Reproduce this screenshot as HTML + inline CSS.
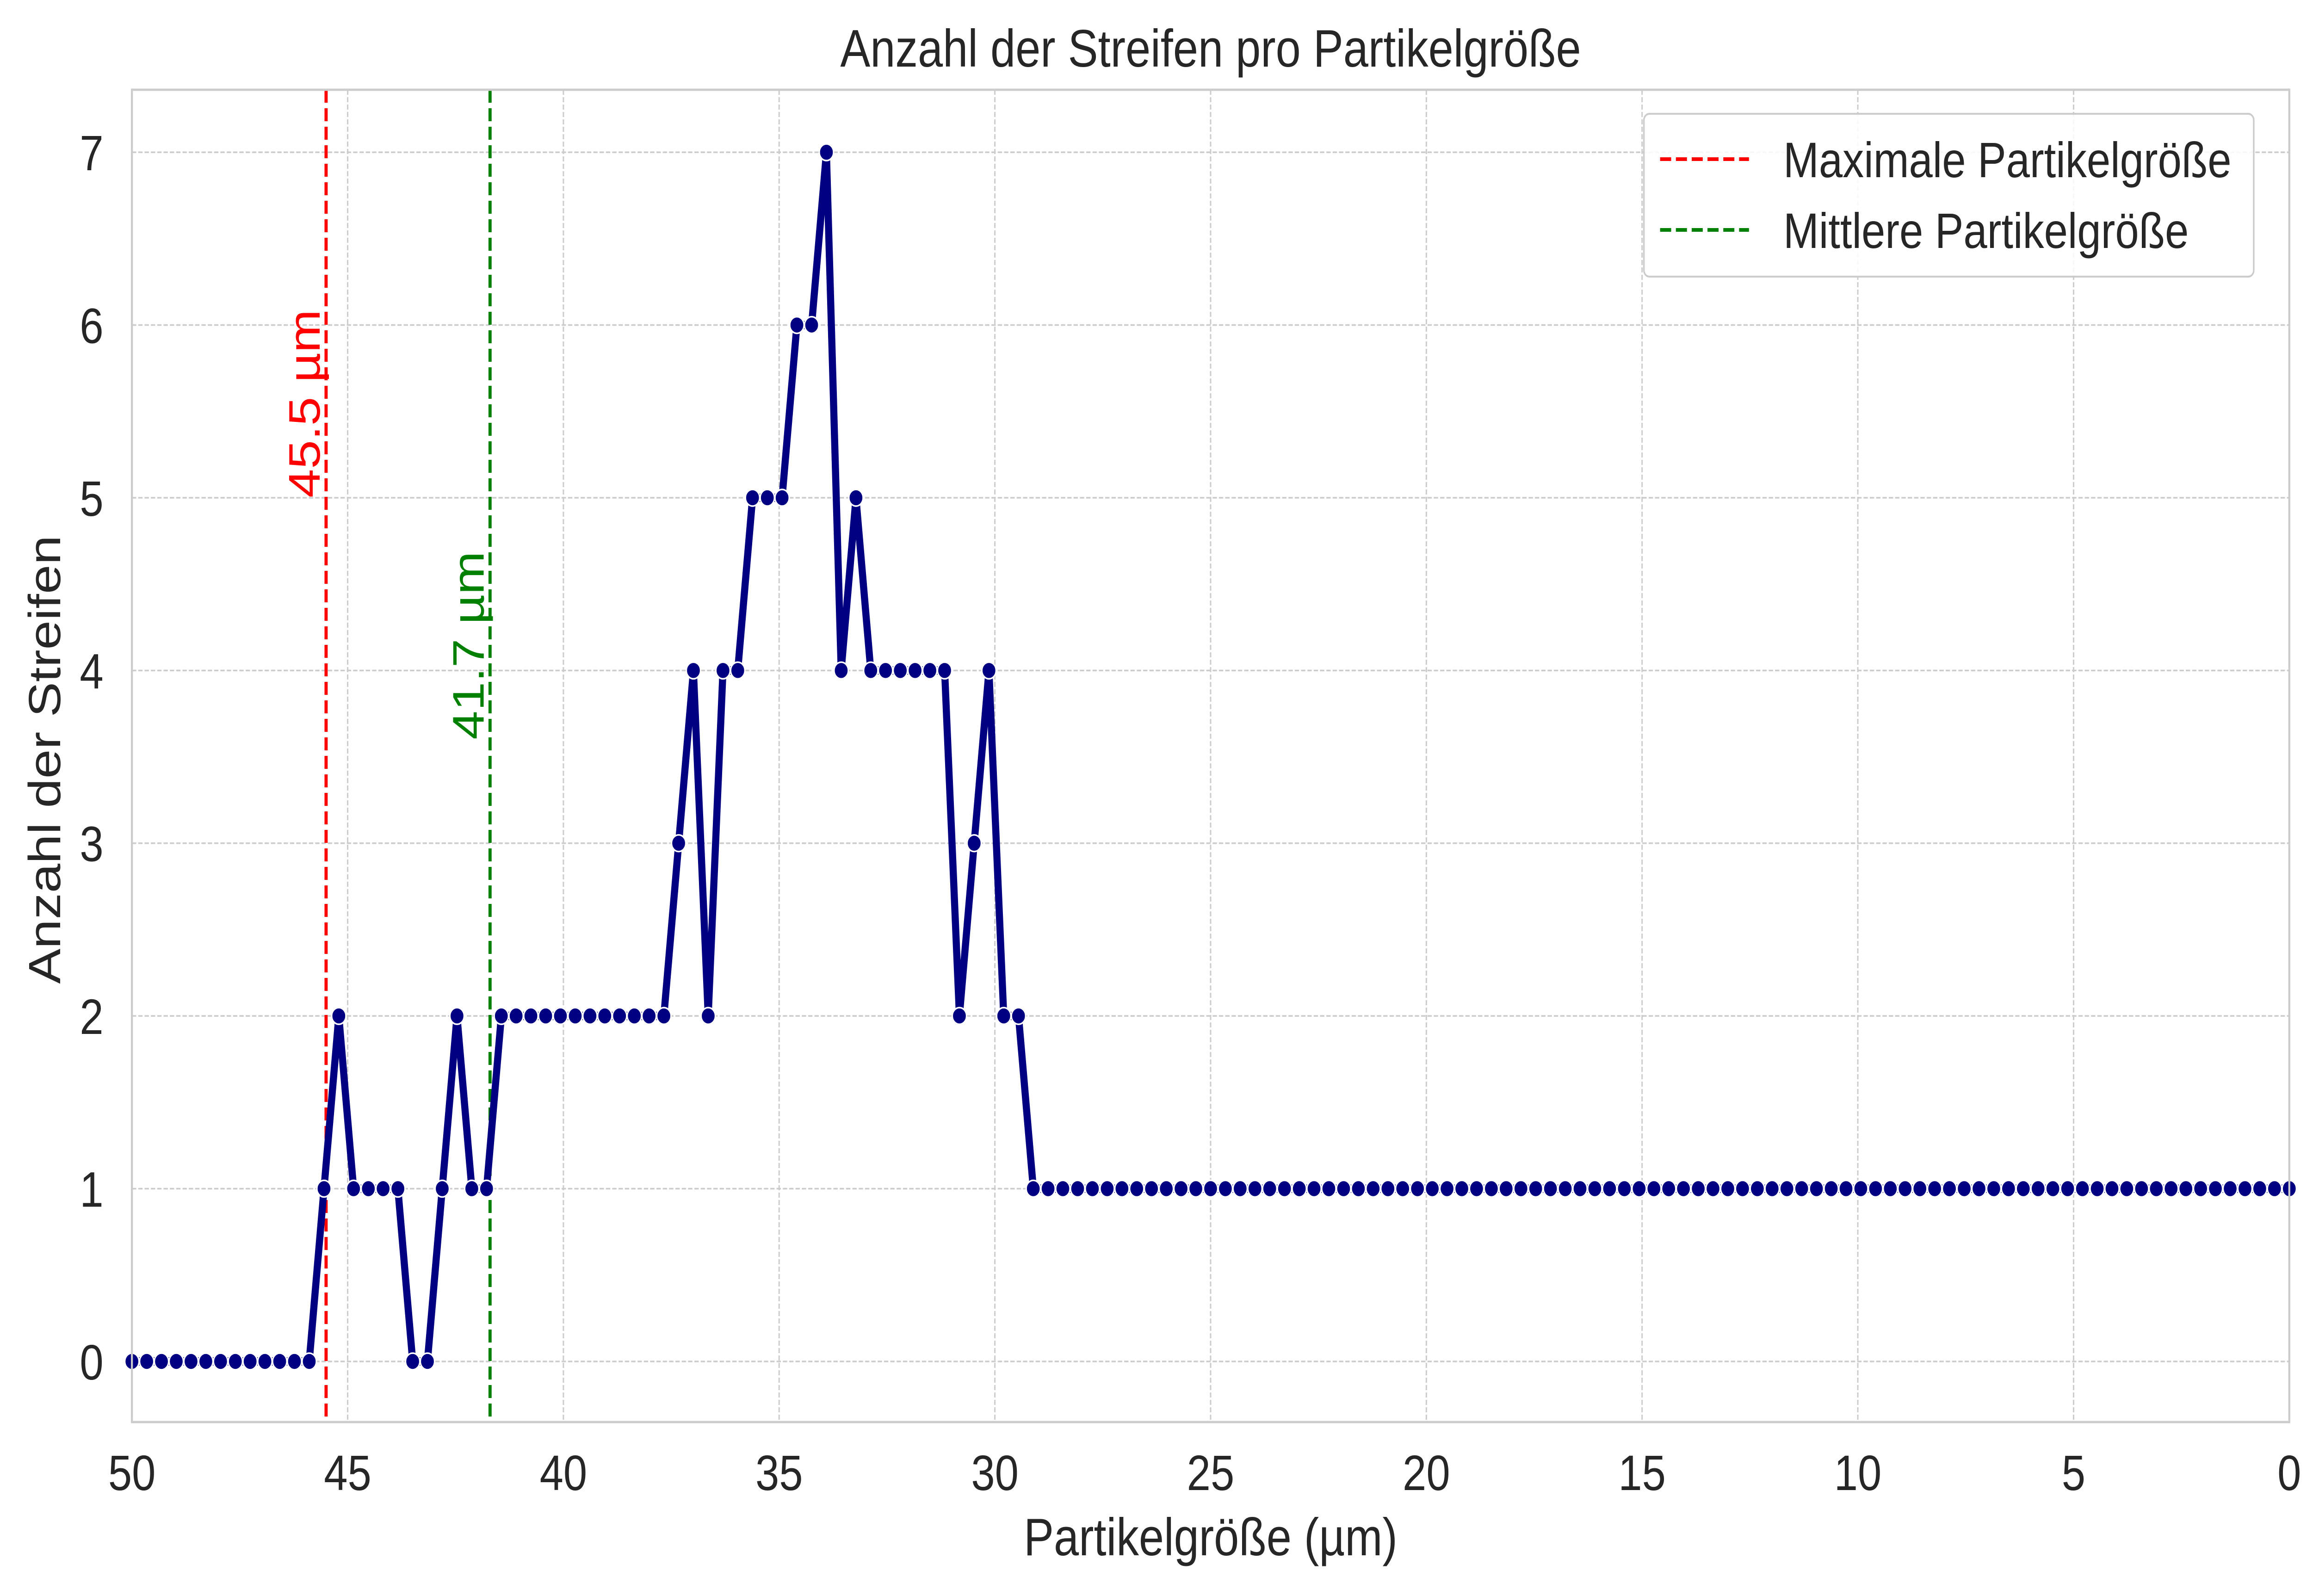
<!DOCTYPE html>
<html><head><meta charset="utf-8"><style>
html,body{margin:0;padding:0;background:#fff;overflow:hidden;width:100vw;height:100vh;}
svg{display:block;width:100vw;height:100vh;font-family:"Liberation Sans","DejaVu Sans",sans-serif;}
</style></head><body>
<svg id="chart" viewBox="0 0 5856 3450" preserveAspectRatio="none" xmlns="http://www.w3.org/2000/svg">
<rect x="0" y="0" width="5856" height="3450" fill="#fff"/>
<g id="grid"></g>
<g id="vlines"></g>
<g id="series"></g>
<rect x="334" y="194" width="5462" height="2880" fill="none" stroke="#cccccc" stroke-width="5"/>
<g id="ticks"></g>
<text x="3065" y="144" font-size="114" text-anchor="middle" fill="#262626">Anzahl der Streifen pro Partikelgröße</text>
<text x="3065" y="3362" font-size="114" text-anchor="middle" fill="#262626">Partikelgröße (µm)</text>
<text x="0" y="0" font-size="114" text-anchor="middle" fill="#262626" transform="translate(152,1642) rotate(-90)">Anzahl der Streifen</text>
<g>
<rect x="4162" y="246" width="1544" height="352" rx="14" fill="#fff" fill-opacity="0.85" stroke="#cccccc" stroke-width="4"/>
<line x1="4203" y1="344" x2="4428" y2="344" stroke="#ff0000" stroke-width="8" stroke-dasharray="28,12"/>
<text x="4515" y="383" font-size="108" fill="#262626">Maximale Partikelgröße</text>
<line x1="4203" y1="497" x2="4428" y2="497" stroke="#008000" stroke-width="8" stroke-dasharray="28,12"/>
<text x="4515" y="536" font-size="108" fill="#262626">Mittlere Partikelgröße</text>
</g>
</svg>
<script>
const counts = [0,0,0,0,0,0,0,0,0,0,0,0,0,1,2,1,1,1,1,0,0,1,2,1,1,2,2,2,2,2,2,2,2,2,2,2,2,3,4,2,4,4,5,5,5,6,6,7,4,5,4,4,4,4,4,4,2,3,4,2,2,1,1,1,1,1,1,1,1,1,1,1,1,1,1,1,1,1,1,1,1,1,1,1,1,1,1,1,1,1,1,1,1,1,1,1,1,1,1,1,1,1,1,1,1,1,1,1,1,1,1,1,1,1,1,1,1,1,1,1,1,1,1,1,1,1,1,1,1,1,1,1,1,1,1,1,1,1,1,1,1,1,1,1,1,1,1];
const xStart = 50, xEnd = 0;
const xTicks = [50,45,40,35,30,25,20,15,10,5,0];
const yTicks = [0,1,2,3,4,5,6,7];
const maxSize = 45.5;
const meanSize = 41.7;
const NS='http://www.w3.org/2000/svg';
const L=334,R=5796,T=194,B=3074;
const xMin=0,xMax=50,yMin=-0.351,yMax=7.362;
function X(v){return L+(xMax-v)/(xMax-xMin)*(R-L);}
function Y(v){return B-(v-yMin)/(yMax-yMin)*(B-T);}
function mk(tag,attrs,parent){const e=document.createElementNS(NS,tag);for(const k in attrs)e.setAttribute(k,attrs[k]);parent.appendChild(e);return e;}
const grid=document.getElementById('grid'),ticks=document.getElementById('ticks');
xTicks.forEach(t=>{
  const g=mk('line',{x1:X(t),x2:X(t),y1:T,y2:B,stroke:'#cccccc','stroke-width':3.5,'stroke-dasharray':'11,5'},grid);
  
  
  const tx=mk('text',{x:X(t),y:3221,'font-size':108,'text-anchor':'middle',fill:'#262626'},ticks);
  tx.textContent=t;
  
  
});
yTicks.forEach(t=>{
  const g=mk('line',{x1:L,x2:R,y1:Y(t),y2:Y(t),stroke:'#cccccc','stroke-width':3.5,'stroke-dasharray':'11,5'},grid);
  
  
  const tx=mk('text',{x:262,y:Y(t)+39,'font-size':108,'text-anchor':'end',fill:'#262626'},ticks);
  tx.textContent=t;
  
  
});
const vl=document.getElementById('vlines');
const r1=mk('line',{x1:X(maxSize),x2:X(maxSize),y1:T,y2:B,stroke:'#ff0000','stroke-width':8,'stroke-dasharray':'28,12'},vl);


const r2=mk('line',{x1:X(meanSize),x2:X(meanSize),y1:T,y2:B,stroke:'#008000','stroke-width':8,'stroke-dasharray':'28,12'},vl);


const a1=mk('text',{x:0,y:0,'font-size':112,fill:'#ff0000',transform:`translate(${X(maxSize)-16},${Y(5.0)}) rotate(-90)`},vl);
a1.textContent=maxSize.toFixed(1)+' µm';


const a2=mk('text',{x:0,y:0,'font-size':112,fill:'#008000',transform:`translate(${X(meanSize)-16},${Y(3.6)}) rotate(-90)`},vl);
a2.textContent=meanSize.toFixed(1)+' µm';


const s=document.getElementById('series');
const n=counts.length;
const xs=counts.map((c,i)=>xStart+(xEnd-xStart)*i/(n-1));
const pts=counts.map((c,i)=>X(xs[i]).toFixed(1)+','+Y(c).toFixed(1)).join(' ');
const pl=mk('polyline',{points:pts,fill:'none',stroke:'#000080','stroke-width':18,'stroke-linejoin':'round'},s);


counts.forEach((c,i)=>{
  const p=mk('circle',{cx:X(xs[i]),cy:Y(c),r:18,fill:'#000080',stroke:'#fff','stroke-width':3.5},s);
  
  
});
</script>
</body></html>
